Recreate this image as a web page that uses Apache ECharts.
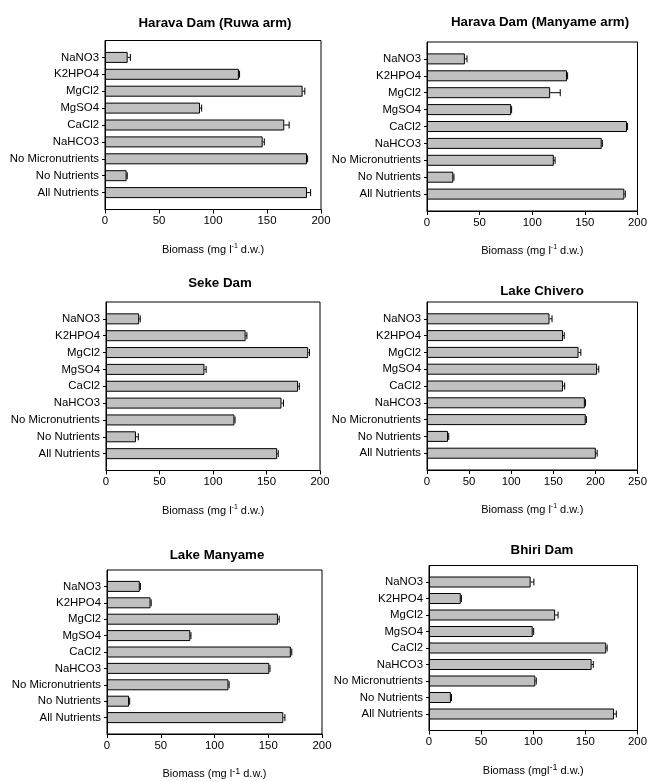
<!DOCTYPE html>
<html>
<head>
<meta charset="utf-8">
<script src="https://cdn.jsdelivr.net/npm/echarts@6/dist/echarts.min.js"></script>
<style>html,body{margin:0;padding:0;background:#fff}#c{width:650px;height:782px}</style>
</head>
<body>
<div id="c"></div>
<script>
const categories = ['NaNO3','K2HPO4','MgCl2','MgSO4','CaCl2','NaHCO3','No Micronutrients','No Nutrients','All Nutrients'];
const panelTitles = ['Harava Dam (Ruwa arm)','Harava Dam (Manyame arm)','Seke Dam','Lake Chivero','Lake Manyame','Bhiri Dam'];
const axisTitles = ['Biomass (mg l{sup|-1} d.w.)','Biomass (mg l{sup|-1} d.w.)','Biomass (mg l{sup|-1} d.w.)','Biomass (mg l{sup|-1} d.w.)','Biomass (mg l{sup2|-1} d.w.)','Biomass (mgl{sup2|-1} d.w.)'];
const axisMax = [200, 200, 200, 250, 200, 200];
const axisInterval = 50;

const ruwaValues = [21, 124, 183, 88, 166, 146, 187, 20, 187];
const ruwaErrors = [2.5, 0.6, 2, 1.5, 4.5, 1.5, 0.6, 0.6, 3.4];
const manyameArmValues = [36, 133, 117, 80, 190, 166, 120.5, 25, 187.5];
const manyameArmErrors = [2, 0.6, 9.6, 0.4, 0.6, 0.6, 1.2, 0.6, 0.9];
const sekeValues = [31, 130.5, 189, 92, 179.5, 164, 120, 28, 160];
const sekeErrors = [1, 1.2, 1.2, 1.6, 1.2, 1.9, 0.6, 2.2, 1];
const chiveroValues = [145.5, 161.5, 180, 202, 161.5, 187.5, 188.5, 25, 200.5];
const chiveroErrors = [3, 1.5, 2.7, 2, 2, 0.8, 0.8, 0.8, 1.6];
const lakeManyameValues = [30.5, 40.5, 159, 77.5, 171, 151, 113, 20.5, 164];
const lakeManyameErrors = [0.6, 0.6, 1.2, 0.6, 0.9, 0.6, 0.6, 0.6, 1.5];
const bhiriValues = [97.5, 30.5, 121, 99.5, 170, 156, 102, 21, 177.5];
const bhiriErrors = [3.1, 0.6, 2.8, 0.9, 0.9, 1.6, 0.9, 0.6, 2.2];

const allValues = [ruwaValues, manyameArmValues, sekeValues, chiveroValues, lakeManyameValues, bhiriValues];
const allErrors = [ruwaErrors, manyameArmErrors, sekeErrors, chiveroErrors, lakeManyameErrors, bhiriErrors];

// layout (pixels)
const grids = [
  {left: 105, top: 40.5, width: 216, height: 169},
  {left: 427, top: 42, width: 215, height: 169},
  {left: 106, top: 302, width: 214, height: 168.5},
  {left: 427, top: 302, width: 213.5, height: 168},
  {left: 107, top: 570, width: 215, height: 168},
  {left: 429, top: 565.5, width: 213, height: 165}
];
const titlePos = [[210, 12], [535, 11], [215, 272], [537, 280], [212, 544], [537, 539]];

const FONT = '"Liberation Sans", Arial, sans-serif';
const paddedCats = [''].concat(categories, ['']);

const option = {
  animation: false,
  backgroundColor: '#fff',
  textStyle: {fontFamily: FONT},
  title: panelTitles.map((t, i) => ({
    text: t, left: titlePos[i][0], top: titlePos[i][1], textAlign: 'center',
    textStyle: {fontFamily: FONT, fontSize: 13.3, fontWeight: 'bold', color: '#000'}
  })),
  grid: grids.map(g => Object.assign({show: true, borderColor: '#000', borderWidth: 1, backgroundColor: '#fff', containLabel: false}, g)),
  xAxis: grids.map((g, i) => ({
    type: 'value', gridIndex: i, min: 0, max: axisMax[i], interval: axisInterval,
    axisLine: {show: true, lineStyle: {color: '#000', width: 1}},
    axisTick: {show: true, length: 4, lineStyle: {color: '#000'}},
    axisLabel: {color: '#000', fontSize: 11.4, fontFamily: FONT, margin: 6},
    splitLine: {show: false},
    name: axisTitles[i], nameLocation: 'middle', nameGap: 33,
    nameTextStyle: {
      color: '#000', fontSize: 11, fontFamily: FONT, lineHeight: 14,
      rich: {
        sup: {fontSize: 7, fontFamily: FONT, color: '#000', verticalAlign: 'top', lineHeight: 7},
        sup2: {fontSize: 9, fontFamily: FONT, color: '#000', verticalAlign: 'top', lineHeight: 9}
      }
    }
  })),
  yAxis: grids.map((g, i) => ({
    type: 'category', gridIndex: i, data: paddedCats, inverse: true, boundaryGap: false,
    axisLine: {show: true, lineStyle: {color: '#000', width: 1}},
    axisTick: {show: true, length: 3, lineStyle: {color: '#000'}, interval: (idx) => idx > 0 && idx < paddedCats.length - 1},
    axisLabel: {color: '#000', fontSize: 11.4, fontFamily: FONT, margin: 6, interval: 0},
    splitLine: {show: false}
  })),
  series: []
};

allValues.forEach((vals, i) => {
  option.series.push({
    type: 'bar', xAxisIndex: i, yAxisIndex: i, barWidth: 11,
    data: categories.map((c, k) => [vals[k], c]),
    encode: {x: 0, y: 1},
    itemStyle: {color: '#c0c0c0', borderColor: '#000', borderWidth: 1}
  });
  option.series.push({
    type: 'custom', xAxisIndex: i, yAxisIndex: i,
    dimensions: ['v', 'cat', 'err'],
    encode: {x: 'v', y: 'cat'},
    data: categories.map((c, k) => [vals[k], c, allErrors[i][k]]),
    renderItem: function (params, api) {
      const v = api.value(0), cat = api.value(1), e = api.value(2);
      const p0 = api.coord([v, cat]);
      const p1 = api.coord([v + e, cat]);
      return {
        type: 'group',
        children: [
          {type: 'line', shape: {x1: p0[0], y1: p0[1], x2: p1[0], y2: p1[1]}, style: {stroke: '#000', lineWidth: 1}},
          {type: 'line', shape: {x1: p1[0], y1: p1[1] - 3.5, x2: p1[0], y2: p1[1] + 3.5}, style: {stroke: '#000', lineWidth: 1}}
        ]
      };
    },
    z: 3
  });
});

const chart = echarts.init(document.getElementById('c'), null, {renderer: 'canvas'});
chart.setOption(option);
</script>
</body>
</html>
